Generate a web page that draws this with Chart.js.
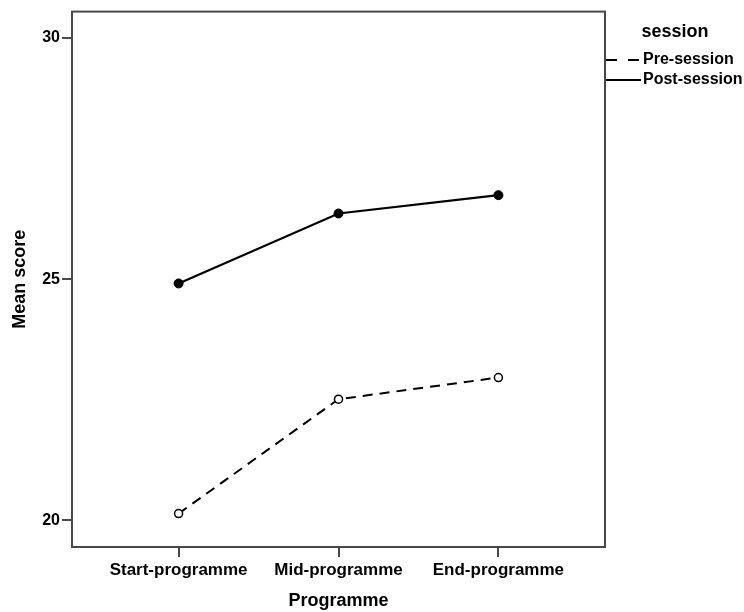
<!DOCTYPE html>
<html>
<head>
<meta charset="utf-8">
<script src="https://cdn.jsdelivr.net/npm/chart.js@4/dist/chart.umd.min.js"></script>
<style>
html,body{margin:0;padding:0;background:#fff;}
#wrap{width:744px;height:612px;position:relative;}
</style>
</head>
<body>
<div id="wrap"><canvas id="c" width="744" height="612"></canvas></div>
<script>
const categories = ['Start-programme', 'Mid-programme', 'End-programme'];
const preSession = [20.14, 22.51, 22.96];
const postSession = [24.91, 26.36, 26.74];
const yTicks = [20, 25, 30];
const seriesLabels = ['Pre-session', 'Post-session'];
const legendTitle = 'session';
const xTitle = 'Programme';
const yTitle = 'Mean score';

const FONT = "'Liberation Sans', Arial, sans-serif";
const FRAME = '#484848';

const framePlugin = {
  id: 'frame',
  beforeDatasetsDraw(chart) {
    const {ctx, chartArea: a} = chart;
    ctx.save();
    ctx.strokeStyle = FRAME;
    ctx.lineWidth = 2;
    ctx.strokeRect(a.left, a.top, a.right - a.left, a.bottom - a.top);
    ctx.restore();
  }
};

const legendPlugin = {
  id: 'customLegend',
  afterDraw(chart) {
    const {ctx} = chart;
    ctx.save();
    ctx.fillStyle = '#000';
    ctx.font = "bold 18px " + FONT;
    ctx.textAlign = 'center';
    ctx.textBaseline = 'middle';
    ctx.fillText(legendTitle, 675, 32);
    ctx.font = "bold 16px " + FONT;
    ctx.textAlign = 'left';
    const rows = [60, 80];
    chart.data.datasets.forEach((ds, i) => {
      const y = rows[i];
      ctx.strokeStyle = '#000';
      ctx.lineWidth = 2;
      ctx.setLineDash(ds.borderDash && ds.borderDash.length ? [11, 11] : []);
      ctx.beginPath();
      ctx.moveTo(606, y);
      ctx.lineTo(641, y);
      ctx.stroke();
      ctx.setLineDash([]);
      ctx.fillText(ds.label, 643, y);
    });
    ctx.restore();
  }
};

new Chart(document.getElementById('c'), {
  type: 'line',
  data: {
    datasets: [
      {
        label: seriesLabels[0],
        data: preSession.map((v, i) => ({x: i, y: v})),
        borderColor: '#000',
        borderWidth: 2,
        borderDash: [10, 7],
        pointRadius: 4,
        pointBorderWidth: 1.5,
        pointBackgroundColor: '#fff',
        pointBorderColor: '#000',
        tension: 0,
        fill: false
      },
      {
        label: seriesLabels[1],
        data: postSession.map((v, i) => ({x: i, y: v})),
        borderColor: '#000',
        borderWidth: 2.2,
        pointRadius: 4.5,
        pointBorderWidth: 1,
        pointBackgroundColor: '#000',
        pointBorderColor: '#000',
        tension: 0,
        fill: false
      }
    ]
  },
  options: {
    responsive: false,
    animation: false,
    devicePixelRatio: 1,
    layout: {padding: {left: 0, top: 11, right: 139, bottom: 0}},
    plugins: {legend: {display: false}, tooltip: {enabled: false}},
    scales: {
      x: {
        type: 'linear',
        min: -2 / 3,
        max: 2 + 2 / 3,
        afterBuildTicks(scale) { scale.ticks = categories.map((_, i) => ({value: i})); },
        afterFit(scale) { scale.height = 65; },
        ticks: {
          callback: (v) => categories[v],
          font: {family: FONT, size: 17, weight: 'bold'},
          color: '#000',
          padding: 3,
          maxRotation: 0,
          autoSkip: false
        },
        grid: {display: true, drawOnChartArea: false, drawTicks: true, tickLength: 10, color: FRAME, lineWidth: 2},
        border: {display: false},
        title: {display: true, text: xTitle, color: '#000', font: {family: FONT, size: 18, weight: 'bold'}, padding: {top: 0, bottom: 0}}
      },
      y: {
        type: 'linear',
        min: 19.447,
        max: 30.545,
        afterBuildTicks(scale) { scale.ticks = yTicks.map(v => ({value: v})); },
        afterFit(scale) { scale.width = 72; },
        ticks: {
          font: {family: FONT, size: 16, weight: 'bold'},
          color: '#000',
          padding: 2
        },
        grid: {display: true, drawOnChartArea: false, drawTicks: true, tickLength: 10, color: FRAME, lineWidth: 2},
        border: {display: false},
        title: {display: true, text: yTitle, color: '#000', font: {family: FONT, size: 18, weight: 'bold'}, padding: {top: 9, bottom: 0}}
      }
    }
  },
  plugins: [framePlugin, legendPlugin]
});
</script>
</body>
</html>
